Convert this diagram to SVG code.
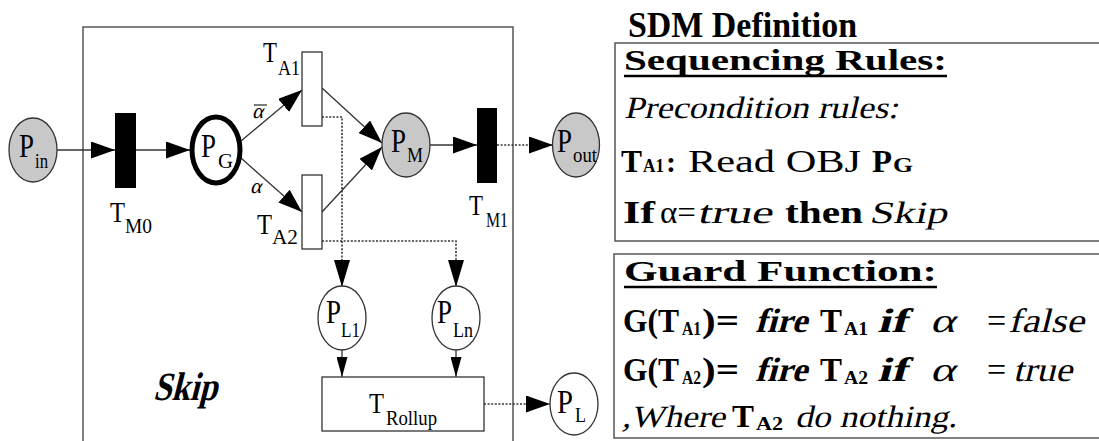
<svg xmlns="http://www.w3.org/2000/svg" width="1099" height="441" viewBox="0 0 1099 441">
<style>
.ln{stroke:#333;stroke-width:1.3;fill:none}
.dt{stroke:#333;stroke-width:1.6;fill:none;stroke-dasharray:2 1.6}
.pl{fill:#c8c8c8;stroke:#333;stroke-width:1.3}
.pw{fill:#fff;stroke:#333;stroke-width:1.3}
.tb{fill:#000}
.tw{fill:#fff;stroke:#333;stroke-width:1.3}
.big{font-family:"Liberation Serif",serif;font-size:34px;fill:#000}
.sub{font-family:"Liberation Serif",serif;font-size:21px;fill:#000}
.tl{font-family:"Liberation Serif",serif;font-size:30px;fill:#000}
.ts{font-family:"Liberation Serif",serif;font-size:20px;fill:#000}
.box{fill:none;stroke:#555;stroke-width:1.5}
.rb{font-family:"Liberation Serif",serif;font-weight:bold;fill:#000}
.rr{font-family:"Liberation Serif",serif;fill:#000}
</style>
<defs>
<marker id="ah" markerWidth="24" markerHeight="17" refX="24" refY="8.5" orient="auto" markerUnits="userSpaceOnUse"><path d="M0,0 L24,8.5 L0,17 z" fill="#000"/></marker>
<marker id="am" markerWidth="27" markerHeight="16" refX="27" refY="8" orient="auto" markerUnits="userSpaceOnUse"><path d="M0,0 L27,8 L0,16 z" fill="#000"/></marker>
<marker id="as" markerWidth="20" markerHeight="11" refX="20" refY="5.5" orient="auto" markerUnits="userSpaceOnUse"><path d="M0,0 L20,5.5 L0,11 z" fill="#000"/></marker>
</defs>
<rect width="1099" height="441" fill="#fff"/>

<g id="skip-box">
<rect class="box" x="83" y="27" width="430" height="430"/>
<text class="rb" transform="translate(153,400) skewX(-14)" font-size="40" textLength="64" lengthAdjust="spacingAndGlyphs">Skip</text>
</g>

<g id="connectors">
<line class="ln" x1="57" y1="150" x2="115" y2="150" marker-end="url(#ah)"/>
<line class="ln" x1="136" y1="150" x2="190" y2="150" marker-end="url(#ah)"/>
<line class="ln" x1="241" y1="141" x2="302" y2="90" marker-end="url(#ah)"/>
<line class="ln" x1="241" y1="158" x2="302" y2="212" marker-end="url(#ah)"/>
<line class="ln" x1="322" y1="88" x2="382" y2="143" marker-end="url(#ah)"/>
<line class="ln" x1="322" y1="212" x2="382" y2="147" marker-end="url(#ah)"/>
<line class="ln" x1="430" y1="145" x2="477" y2="145" marker-end="url(#ah)"/>
<line class="dt" x1="497" y1="145" x2="553" y2="145" marker-end="url(#ah)"/>
<path class="dt" d="M322,117 H342 V287" marker-end="url(#am)"/>
<path class="dt" d="M322,241 H456 V287" marker-end="url(#am)"/>
<line class="ln" x1="342" y1="350" x2="342" y2="377" marker-end="url(#as)"/>
<line class="ln" x1="456" y1="350" x2="456" y2="377" marker-end="url(#as)"/>
<line class="dt" x1="484" y1="404" x2="550" y2="404" marker-end="url(#ah)"/>
<text class="rr" transform="translate(252,118) skewX(-14)" font-size="21">α</text>
<line x1="254" y1="105" x2="267" y2="105" stroke="#333" stroke-width="1.3"/>
<text class="rr" transform="translate(250,193) skewX(-14)" font-size="21">α</text>
</g>

<g id="P_in">
<ellipse class="pl" cx="33" cy="150" rx="24" ry="32"/>
<text class="big" x="19" y="157" textLength="15" lengthAdjust="spacingAndGlyphs">P</text>
<text class="sub" x="35" y="168" textLength="13" lengthAdjust="spacingAndGlyphs">in</text>
</g>

<g id="T_M0">
<rect class="tb" x="115" y="113" width="21" height="75"/>
<text class="tl" x="110" y="222" textLength="15" lengthAdjust="spacingAndGlyphs">T</text>
<text class="ts" x="125" y="233" textLength="27" lengthAdjust="spacingAndGlyphs">M0</text>
</g>

<g id="P_G">
<ellipse cx="216" cy="150" rx="24" ry="33" fill="#fff" stroke="#000" stroke-width="5"/>
<text class="big" x="201" y="157" textLength="15" lengthAdjust="spacingAndGlyphs">P</text>
<text class="sub" x="218" y="168" textLength="15" lengthAdjust="spacingAndGlyphs">G</text>
</g>

<g id="T_A1">
<rect class="tw" x="302" y="52" width="20" height="74"/>
<text class="tl" x="263" y="62" textLength="14" lengthAdjust="spacingAndGlyphs">T</text>
<text class="ts" x="278" y="75" textLength="22" lengthAdjust="spacingAndGlyphs">A1</text>
</g>

<g id="T_A2">
<rect class="tw" x="302" y="175" width="20" height="74"/>
<text class="tl" x="257" y="234" textLength="15" lengthAdjust="spacingAndGlyphs">T</text>
<text class="ts" x="272" y="244" textLength="26" lengthAdjust="spacingAndGlyphs">A2</text>
</g>

<g id="P_M">
<ellipse class="pl" cx="406" cy="145" rx="24" ry="32"/>
<text class="big" x="391" y="152" textLength="15" lengthAdjust="spacingAndGlyphs">P</text>
<text class="sub" x="407" y="162" textLength="16" lengthAdjust="spacingAndGlyphs">M</text>
</g>

<g id="T_M1">
<rect class="tb" x="477" y="108" width="20" height="75"/>
<text class="tl" x="469" y="215" textLength="14" lengthAdjust="spacingAndGlyphs">T</text>
<text class="ts" x="486" y="227" textLength="22" lengthAdjust="spacingAndGlyphs">M1</text>
</g>

<g id="P_out">
<ellipse class="pl" cx="576" cy="145" rx="23.5" ry="32"/>
<text class="big" x="557" y="152" textLength="15" lengthAdjust="spacingAndGlyphs">P</text>
<text class="sub" x="573" y="162" textLength="24" lengthAdjust="spacingAndGlyphs">out</text>
</g>

<g id="P_L1">
<ellipse class="pw" cx="342" cy="318" rx="24" ry="32"/>
<text class="big" x="326" y="323" textLength="15" lengthAdjust="spacingAndGlyphs">P</text>
<text class="sub" x="341" y="337" textLength="19" lengthAdjust="spacingAndGlyphs">L1</text>
</g>

<g id="P_Ln">
<ellipse class="pw" cx="456" cy="318" rx="24" ry="32"/>
<text class="big" x="437" y="323" textLength="15" lengthAdjust="spacingAndGlyphs">P</text>
<text class="sub" x="453" y="337" textLength="20" lengthAdjust="spacingAndGlyphs">Ln</text>
</g>

<g id="T_Rollup">
<rect class="tw" x="322" y="377" width="162" height="54"/>
<text class="tl" x="369" y="413" font-size="32" textLength="15" lengthAdjust="spacingAndGlyphs">T</text>
<text class="sub" x="386" y="425" textLength="51" lengthAdjust="spacingAndGlyphs">Rollup</text>
</g>

<g id="P_L">
<ellipse class="pw" cx="574" cy="404" rx="24" ry="31"/>
<text class="big" x="557" y="413" textLength="16" lengthAdjust="spacingAndGlyphs">P</text>
<text class="sub" x="575" y="422" textLength="11" lengthAdjust="spacingAndGlyphs">L</text>
</g>

<g id="sdm-definition">
<text class="rb" x="628" y="37" font-size="36" textLength="229" lengthAdjust="spacingAndGlyphs">SDM Definition</text>
</g>

<g id="sequencing-rules">
<rect class="box" x="615" y="43" width="500" height="198"/>
<text class="rb" x="624" y="70" font-size="30" textLength="323" lengthAdjust="spacingAndGlyphs">Sequencing Rules:</text>
<line x1="624" y1="76" x2="947" y2="76" stroke="#000" stroke-width="2.5"/>
<text class="rr" transform="translate(624,118) skewX(-13)" font-size="31" textLength="274" lengthAdjust="spacingAndGlyphs">Precondition rules:</text>
<text class="rb" x="621" y="172" font-size="32" textLength="21" lengthAdjust="spacingAndGlyphs">T</text>
<text class="rb" x="643" y="172" font-size="19" textLength="21" lengthAdjust="spacingAndGlyphs">A1</text>
<text class="rb" x="666" y="172" font-size="30">:</text>
<text class="rr" x="688" y="172" font-size="31" textLength="173" lengthAdjust="spacingAndGlyphs">Read OBJ</text>
<text class="rb" x="872" y="172" font-size="32" textLength="20" lengthAdjust="spacingAndGlyphs">P</text>
<text class="rb" x="893" y="172" font-size="22" textLength="20" lengthAdjust="spacingAndGlyphs">G</text>
<text class="rb" x="623" y="223" font-size="31" textLength="32" lengthAdjust="spacingAndGlyphs">If</text>
<text class="rr" x="660" y="223" font-size="32" textLength="36" lengthAdjust="spacingAndGlyphs">α=</text>
<text class="rr" transform="translate(697,223) skewX(-13)" font-size="32" textLength="75" lengthAdjust="spacingAndGlyphs">true</text>
<text class="rb" x="785" y="223" font-size="31" textLength="78" lengthAdjust="spacingAndGlyphs">then</text>
<text class="rr" transform="translate(869,223) skewX(-13)" font-size="31" textLength="78" lengthAdjust="spacingAndGlyphs">Skip</text>
</g>

<g id="guard-function">
<rect class="box" x="614" y="254" width="500" height="184"/>
<text class="rb" x="624" y="281" font-size="30" textLength="313" lengthAdjust="spacingAndGlyphs">Guard Function:</text>
<line x1="624" y1="287" x2="937" y2="287" stroke="#000" stroke-width="2.5"/>
<text class="rb" x="623" y="332" font-size="34" textLength="56" lengthAdjust="spacingAndGlyphs">G(T</text>
<text class="rb" x="682" y="335" font-size="19" textLength="19" lengthAdjust="spacingAndGlyphs">A1</text>
<text class="rb" x="702" y="332" font-size="34" textLength="37" lengthAdjust="spacingAndGlyphs">)=</text>
<text class="rb" transform="translate(755,332) skewX(-15)" font-size="34" textLength="52" lengthAdjust="spacingAndGlyphs">fire</text>
<text class="rb" x="820" y="332" font-size="34" textLength="22" lengthAdjust="spacingAndGlyphs">T</text>
<text class="rb" x="844" y="335" font-size="19" textLength="24" lengthAdjust="spacingAndGlyphs">A1</text>
<text class="rb" transform="translate(877,332) skewX(-15)" font-size="34" textLength="30" lengthAdjust="spacingAndGlyphs">if</text>
<text class="rr" transform="translate(930,332) skewX(-15)" font-size="34" textLength="25" lengthAdjust="spacingAndGlyphs">α</text>
<text class="rr" x="987" y="332" font-size="34">=</text>
<text class="rr" transform="translate(1008,332) skewX(-14)" font-size="34" textLength="76" lengthAdjust="spacingAndGlyphs">false</text>

<text class="rb" x="623" y="381" font-size="34" textLength="56" lengthAdjust="spacingAndGlyphs">G(T</text>
<text class="rb" x="682" y="384" font-size="19" textLength="19" lengthAdjust="spacingAndGlyphs">A2</text>
<text class="rb" x="702" y="381" font-size="34" textLength="37" lengthAdjust="spacingAndGlyphs">)=</text>
<text class="rb" transform="translate(755,381) skewX(-15)" font-size="34" textLength="52" lengthAdjust="spacingAndGlyphs">fire</text>
<text class="rb" x="820" y="381" font-size="34" textLength="22" lengthAdjust="spacingAndGlyphs">T</text>
<text class="rb" x="844" y="384" font-size="19" textLength="24" lengthAdjust="spacingAndGlyphs">A2</text>
<text class="rb" transform="translate(877,381) skewX(-15)" font-size="34" textLength="30" lengthAdjust="spacingAndGlyphs">if</text>
<text class="rr" transform="translate(930,381) skewX(-15)" font-size="34" textLength="25" lengthAdjust="spacingAndGlyphs">α</text>
<text class="rr" x="987" y="381" font-size="34">=</text>
<text class="rr" transform="translate(1013,381) skewX(-14)" font-size="34" textLength="59" lengthAdjust="spacingAndGlyphs">true</text>

<text class="rr" transform="translate(622,427) skewX(-13)" font-size="31" textLength="103" lengthAdjust="spacingAndGlyphs">,Where</text>
<text class="rb" x="732" y="427" font-size="32" textLength="22" lengthAdjust="spacingAndGlyphs">T</text>
<text class="rb" x="756" y="430" font-size="19" textLength="27" lengthAdjust="spacingAndGlyphs">A2</text>
<text class="rr" transform="translate(795,427) skewX(-13)" font-size="31" textLength="162" lengthAdjust="spacingAndGlyphs">do nothing.</text>
</g>
</svg>
